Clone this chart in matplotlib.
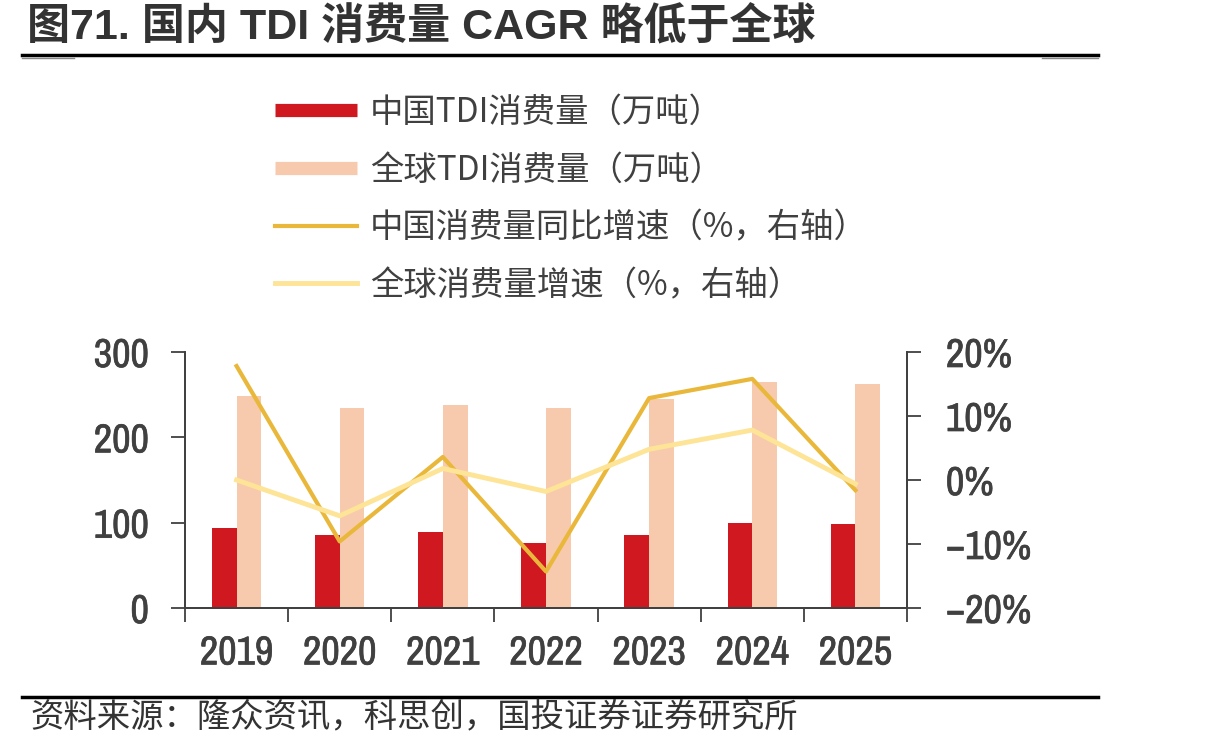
import matplotlib
matplotlib.use('Agg')
import matplotlib.pyplot as plt
import matplotlib.patheffects as pe
from matplotlib.lines import Line2D
from matplotlib.ticker import FixedLocator, FuncFormatter
import numpy as np

# Data
years = ['2019', '2020', '2021', '2022', '2023', '2024', '2025']
china_vol = [94, 86, 89, 76, 86, 100, 98]          # 万吨
global_vol = [248, 234, 238, 234, 245, 265, 263]   # 万吨
china_growth = [17.8, -9.6, 3.6, -14.3, 12.8, 15.8, -1.6]  # %
global_growth = [0.0, -5.6, 1.8, -1.8, 4.8, 7.8, -0.6]     # %

labels = ['中国TDI消费量（万吨）', '全球TDI消费量（万吨）',
          '中国消费量同比增速（%，右轴）', '全球消费量增速（%，右轴）']

RED = '#CF1820'
PEACH = '#F7CAAE'
GOLD = '#E9B83B'
YELLOW = '#FDE497'
TXT = '#404040'

CJK = ['Noto Sans CJK SC', 'DejaVu Sans']
NUM = ['Archivo Narrow', 'Liberation Sans', 'Noto Sans CJK SC']
TITLE = ['Liberation Sans', 'Noto Sans CJK SC']

W, H = 1213, 747
fig = plt.figure(figsize=(W / 100, H / 100), dpi=100)

ax = fig.add_axes([185 / W, 1 - 608 / H, (907 - 185) / W, (608 - 352) / H])
ax2 = ax.twinx()

x = np.arange(len(years))
bw = 0.24
ax.bar(x - bw / 2, china_vol, bw, color=RED, zorder=2)
ax.bar(x + bw / 2, global_vol, bw, color=PEACH, zorder=2)

ax2.plot(x, china_growth, color=GOLD, lw=3.0)
ax2.plot(x, global_growth, color=YELLOW, lw=3.5)

ax.set_xlim(-0.5, len(years) - 0.5)
ax.set_ylim(0, 300)
ax.set_yticks([0, 100, 200, 300])
ax2.set_ylim(-20, 20)
ax2.set_yticks([-20, -10, 0, 10, 20])
ax2.yaxis.set_major_formatter(FuncFormatter(lambda v, p: f'{v:.0f}%'.replace('-', '\u2212')))

# category labels centred, tick marks on the boundaries
ax.set_xticks(x)
ax.set_xticklabels(years)
ax.tick_params(axis='x', length=0, pad=19)
ax.xaxis.set_minor_locator(FixedLocator(np.arange(-0.5, len(years), 1)))
ax.tick_params(axis='x', which='minor', length=10, width=1.3, color=TXT, direction='out')

ax.tick_params(axis='y', length=10, width=1.3, color=TXT, direction='out', pad=16)
ax2.tick_params(axis='y', length=10, width=1.3, color=TXT, direction='out', pad=18)

# thicken the narrow digits a little, the source uses a heavier cut
thick = [pe.withStroke(linewidth=0.5, foreground=TXT)]
for a in (ax, ax2):
    for s in a.spines.values():
        s.set_color(TXT)
        s.set_linewidth(1.3)
    a.spines['top'].set_visible(False)
    for lab in a.get_xticklabels() + a.get_yticklabels():
        lab.set_family(NUM)
        lab.set_fontsize(29)
        lab.set_color(TXT)
        lab.set_path_effects(thick)

# legend
handles = [Line2D([], [], color=RED, lw=9.5, solid_capstyle='butt'),
           Line2D([], [], color=PEACH, lw=9.5, solid_capstyle='butt'),
           Line2D([], [], color=GOLD, lw=3.0),
           Line2D([], [], color=YELLOW, lw=3.5)]
leg = fig.legend(handles, labels, loc='upper left', bbox_to_anchor=(275 / W, 1 - 95 / H),
                 frameon=False, prop={'family': CJK, 'size': 24}, handlelength=2.45,
                 handletextpad=0.4, labelspacing=0.68, borderpad=0, borderaxespad=0)
for t in leg.get_texts():
    t.set_color(TXT)

# title and rules
fig.text(27 / W, 1 - 28 / H, '图71. 国内 TDI 消费量 CAGR 略低于全球', family=TITLE,
         fontsize=31, fontweight='bold', color='#333333', va='center', ha='left')
fig.add_artist(Line2D([22 / W, 1098 / W], [1 - 55 / H] * 2, color='black', lw=2.5))
fig.add_artist(Line2D([22 / W, 74 / W], [1 - 58 / H] * 2, color='#888888', lw=1))
fig.add_artist(Line2D([1042 / W, 1098 / W], [1 - 58 / H] * 2, color='#888888', lw=1))
fig.add_artist(Line2D([22 / W, 1098 / W], [1 - 697 / H] * 2, color='black', lw=2.5))

fig.text(30 / W, 1 - 717 / H, '资料来源：隆众资讯，科思创，国投证券证券研究所', family=CJK,
         fontsize=24, style='italic', color='#333333', va='center', ha='left')

fig.savefig('out.png', dpi=100)
